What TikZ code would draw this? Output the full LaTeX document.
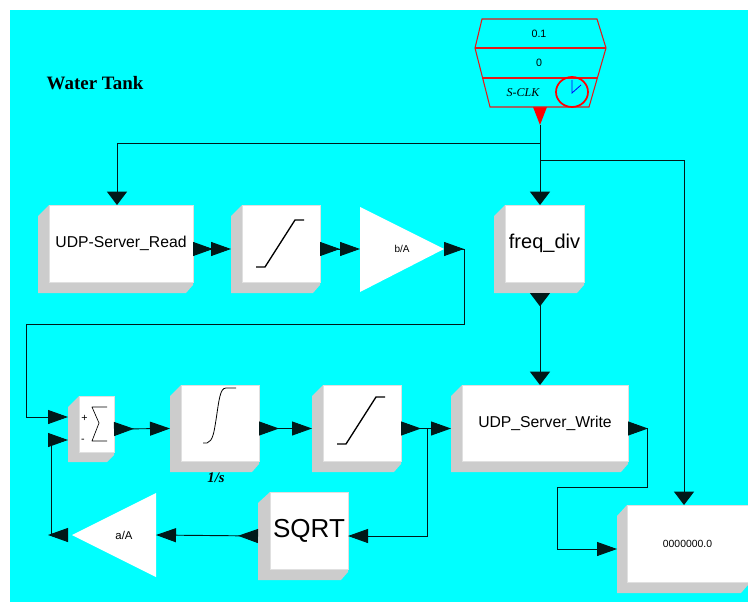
\documentclass[tikz,border=0pt]{standalone}
\usepackage{fontspec}
\setmainfont{Liberation Serif}
\setsansfont{Liberation Sans}
\usetikzlibrary{arrows.meta}
\definecolor{sidegrey}{HTML}{CCCCCC}
\definecolor{aqua}{HTML}{00FFFF}
\tikzset{
  x=0.75pt,y=-0.75pt,
  outer/.style={inner sep=0pt,outer sep=0pt},
  face/.style={fill=white,draw=black!12,line width=0.4pt,inner sep=0pt,outer sep=0pt,font=\sffamily},
  wire/.style={draw=black!90!aqua,line width=0.7pt},
  hin/.style={wire,-{Triangle[length=15pt,width=10.5pt]}},
  vin/.style={wire,-{Triangle[length=10pt,width=15pt]}},
  hboth/.style={wire,{Triangle[reversed,length=15pt,width=10.5pt]}-{Triangle[length=15pt,width=10.5pt]}},
  vboth/.style={wire,{Triangle[reversed,length=10pt,width=15pt]}-{Triangle[length=10pt,width=15pt]}},
  hstart/.style={wire,{Triangle[reversed,length=15pt,width=10.5pt]}-},
  icon/.style={draw=black,line width=1pt,line join=round},
  clockline/.style={draw=red!80!gray,line width=0.8pt,line join=miter},
  lab/.style={inner sep=0pt,outer sep=0pt}
}
% #1 name, #2 left, #3 face left, #4 right, #5 top, #6 face bottom, #7 bottom, #8 font, #9 text
\newcommand{\blockbox}[9]{%
  \fill[sidegrey] (#2,#5+11) -- (#3,#5) -- (#3,#6) -- (#4,#6) -- (#4,#6+3) -- (#4-7,#7) -- (#2,#7) -- cycle;
  \path[face] (#3,#5) rectangle (#4,#6);
  \node[outer,minimum width={(#4-#2)*0.75pt},minimum height={(#7-#5)*0.75pt}] (#1) at ({(#2+#4)/2},{(#5+#7)/2}) {};
  \node[lab,font={\sffamily#8}] (#1-t) at ({(#3+#4)/2},{(#5+#6)/2}) {#9};
}
\begin{document}
\begin{tikzpicture}
\useasboundingbox (0,0) rectangle (748,602);
\fill[white] (0,0) rectangle (748,602);
\fill[aqua] (10,10) rectangle (748,602);

\node[lab,font={\rmfamily\bfseries\fontsize{14.2pt}{16pt}\selectfont}] (title) at (95,83) {Water Tank};

% clock
\fill[red] (533,107) -- (547,107) -- (540,125) -- cycle;
\draw[clockline] (482,19) -- (597,19) -- (606,48) -- (589,107) -- (490,107) -- (475,48) -- cycle;
\draw[clockline] (475,48) -- (606,48);
\draw[clockline] (482,78) -- (597,78);
\node[lab,font=\sffamily\fontsize{8pt}{9pt}\selectfont] (clkA) at (539,34) {0.1};
\node[lab,font=\sffamily\fontsize{8pt}{9pt}\selectfont] (clkB) at (539,63) {0};
\node[lab,font=\rmfamily\itshape\fontsize{9pt}{10pt}\selectfont] (clkC) at (523,93) {S-CLK};
\draw[red,line width=1.3pt] (572,92) circle [x radius=16,y radius=-15];
\draw[blue,line width=0.6pt] (572,80) -- (572,93) -- (581,85);
\node[outer,minimum width=98.25pt,minimum height=66pt] (clk) at (540,63) {};
\coordinate (clkout) at (540,125);
\coordinate (j1) at (540,143);
\coordinate (j2) at (540,160);

% blocks
\blockbox{read}{38}{49}{193}{205}{282}{293}{\fontsize{11.8pt}{14pt}\selectfont}{UDP-Server\_Read}
\blockbox{sata}{231}{242}{320}{205}{282}{293}{}{}
\blockbox{freq}{494}{505}{584}{205}{282}{293}{\fontsize{15pt}{17pt}\selectfont}{freq\_div}
\blockbox{sum}{68}{79}{114}{396}{452}{462}{}{}
\blockbox{integ}{170}{181}{259}{385}{461}{472}{}{}
\blockbox{satb}{312}{323}{401}{385}{461}{472}{}{}
\blockbox{write}{451}{462}{628}{385}{461}{472}{\fontsize{11.8pt}{14pt}\selectfont}{UDP\_Server\_Write}
\blockbox{disp}{617}{627}{748}{505}{582}{593}{\fontsize{7.8pt}{9pt}\selectfont}{0000000.0}
\blockbox{sqrt}{258}{270}{348}{492}{569}{580}{\fontsize{19.5pt}{22pt}\selectfont}{SQRT}

% gains
\fill[white] (360,207) -- (360,292) -- (444,249) -- cycle;
\node[outer,minimum width=63pt,minimum height=63.75pt] (gb) at (402,249) {};
\node[lab,font=\sffamily\fontsize{7.5pt}{9pt}\selectfont] (gbt) at (402,249) {b/A};
\fill[white] (156,493) -- (156,577) -- (72,535) -- cycle;
\node[outer,minimum width=63pt,minimum height=63pt] (ga) at (114,535) {};
\node[lab,font=\sffamily\fontsize{8.5pt}{10pt}\selectfont] (gat) at (124,535) {a/A};

% icons
\draw[icon] (256,267) -- (265,267) -- (295,220) -- (304,220);
\draw[icon] (337,444) -- (346,444) -- (376,397) -- (385,397);
\draw[icon,line width=0.6pt] (203,443) -- (207,443) .. controls (213,441) and (214,432) .. (216,420) .. controls (219,400) and (220,388) .. (226,388) -- (236,388);
\draw[icon,line width=0.5pt,miter limit=10] (107,407) -- (92,407) -- (99,423) -- (92,441) -- (107,441);
\node[lab,font=\sffamily\fontsize{8pt}{9pt}\selectfont] (plus) at (84.5,418) {+};
\node[lab,font=\sffamily\fontsize{8pt}{9pt}\selectfont] (minus) at (83,441) {-};
\node[lab,font=\rmfamily\bfseries\itshape\fontsize{11pt}{12pt}\selectfont] (ones) at (216,478) {1/s};

% connectors
\coordinate (sumA) at (sum.west |- 0,417);
\coordinate (sumB) at (sum.west |- 0,440);
\coordinate (t) at (427,428.5);
\draw[wire] (clkout) -- (j1);
\draw[vin] (j1) -| (read.north -| 117,0);
\draw[vin] (j1) -- (j1 |- freq.north);
\draw[wire] (j1) -- (j2);
\draw[vin] (j2) -| (disp.north -| 684,0);
\draw[hboth] (read.east) -- (sata.west);
\draw[hboth] (sata.east) -- (gb.west);
\draw[vboth] (j1 |- freq.south) -- (j1 |- write.north);
\draw[hstart] (gb.east) -- (464,249) -- (464,324) -- (26,324) -- (26,417);
\draw[hin] (26,417) -- (sumA);
\draw[hboth] (sum.east) -- (integ.west);
\draw[hboth] (integ.east) -- (satb.west);
\draw[hboth] (satb.east) -- (write.west);
\draw[hin] (t) |- (sqrt.east);
\draw[hboth] (sqrt.west) -- (ga.east);
\draw[hstart] ([xshift=-3pt]ga.west) -- (51,535) -- (51,440);
\draw[hin] (51,440) -- (sumB);
\draw[hstart] (write.east) -- (647,428.5) -- (647,487) -- (557,487) -- (557,549);
\draw[hin] (557,549) -- (disp.west);
\end{tikzpicture}
\end{document}
